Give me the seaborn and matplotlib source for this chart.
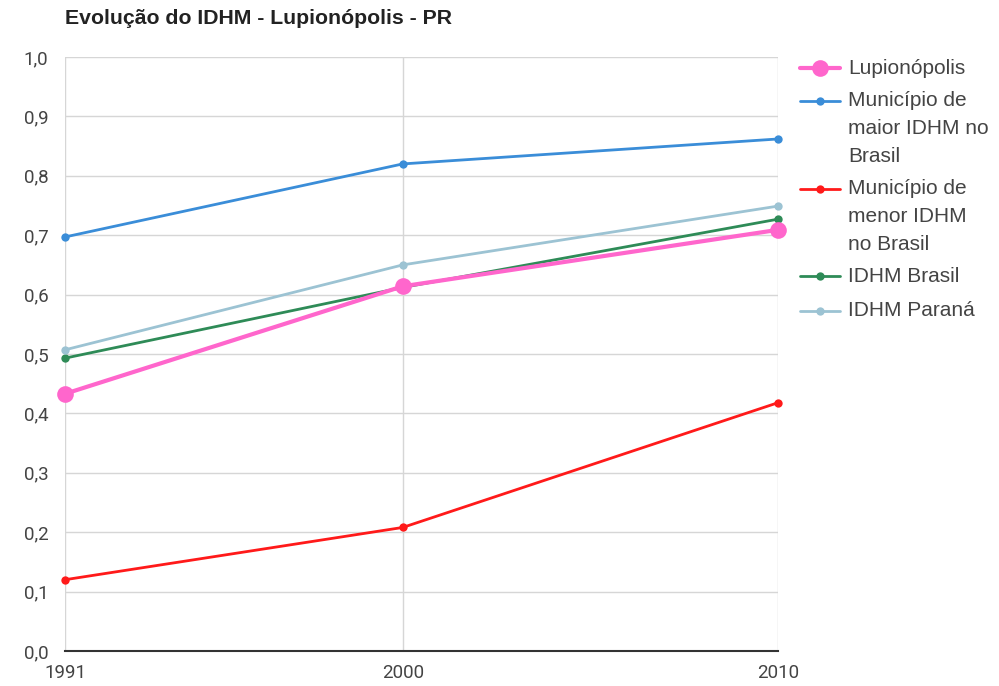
import pandas as pd
import matplotlib
matplotlib.use("Agg")
import matplotlib.pyplot as plt
from matplotlib.lines import Line2D
from matplotlib.ticker import FuncFormatter
import seaborn as sns

years = [1991, 2000, 2010]
lupionopolis = [0.433, 0.614, 0.709]
maior_idhm = [0.697, 0.820, 0.862]
menor_idhm = [0.120, 0.208, 0.418]
idhm_brasil = [0.493, 0.612, 0.727]
idhm_parana = [0.507, 0.650, 0.749]

series_names = ["Lupionópolis", "Município de\nmaior IDHM no\nBrasil",
                "Município de\nmenor IDHM\nno Brasil", "IDHM Brasil", "IDHM Paraná"]
series_values = [lupionopolis, maior_idhm, menor_idhm, idhm_brasil, idhm_parana]
colors = ["#ff66cc", "#3a8dd8", "#ff1a1a", "#2e8b57", "#9cc3d3"]
y_ticks = [i / 10 for i in range(11)]

rows = []
for name, vals in zip(series_names, series_values):
    for y, v in zip(years, vals):
        rows.append({"ano": y, "idhm": v, "serie": name})
df = pd.DataFrame(rows)

sns.set_style("white")
plt.rcParams["font.family"] = ["Roboto", "DejaVu Sans"]

fig = plt.figure(figsize=(9.99, 6.86), dpi=100)
ax = fig.add_axes([65 / 999, 35 / 686, 713 / 999, 594 / 686])

# draw order: pink on top
draw_order = [1, 2, 3, 4, 0]
for i in draw_order:
    big = i == 0
    sub = df[df["serie"] == series_names[i]]
    sns.lineplot(data=sub, x="ano", y="idhm", ax=ax, color=colors[i],
                 linewidth=3 if big else 2, marker="o",
                 markersize=12 if big else 6, markeredgewidth=0,
                 zorder=5 if big else 4, legend=False, clip_on=False)

ax.set_xlim(1991, 2010)
ax.set_ylim(0, 1.0)
ax.set_xticks(years)
ax.set_yticks(y_ticks)
ax.yaxis.set_major_formatter(FuncFormatter(lambda v, p: f"{v:.1f}".replace(".", ",")))
ax.grid(True, color="#d6d6d6", linewidth=1)
ax.set_axisbelow(True)
for s in ["top", "right", "left"]:
    ax.spines[s].set_visible(False)
ax.spines["bottom"].set_color("#333333")
ax.spines["bottom"].set_linewidth(1.5)
ax.tick_params(axis="both", length=0, labelsize=13.5, colors="#444444")
ax.tick_params(axis="x", pad=9)
ax.tick_params(axis="y", pad=12)
ax.set_xlabel("")
ax.set_ylabel("")

fig.text(65 / 999, 1 - 19 / 686, "Evolução do IDHM - Lupionópolis - PR",
         fontsize=15.3, fontweight="bold", color="#222222", va="center", ha="left",
         family=["Liberation Sans", "DejaVu Sans"])

# legend drawn manually to mimic the wrapped labels
leg_y = [68, 101, 189, 276, 311]
line_h = 27.5
for i, name in enumerate(series_names):
    yy = 1 - leg_y[i] / 686
    big = i == 0
    fig.add_artist(Line2D([800 / 999, 840 / 999], [yy, yy], color=colors[i],
                          linewidth=3 if big else 2, transform=fig.transFigure))
    fig.add_artist(Line2D([820 / 999], [yy], color=colors[i], marker="o",
                          markersize=12 if big else 6, markeredgewidth=0,
                          transform=fig.transFigure))
    for k, part in enumerate(name.split("\n")):
        fig.text(848 / 999, yy - k * line_h / 686, part, fontsize=15,
                 color="#444444", va="center", ha="left",
                 family=["Liberation Sans", "DejaVu Sans"])

fig.savefig("out.png", dpi=100)
